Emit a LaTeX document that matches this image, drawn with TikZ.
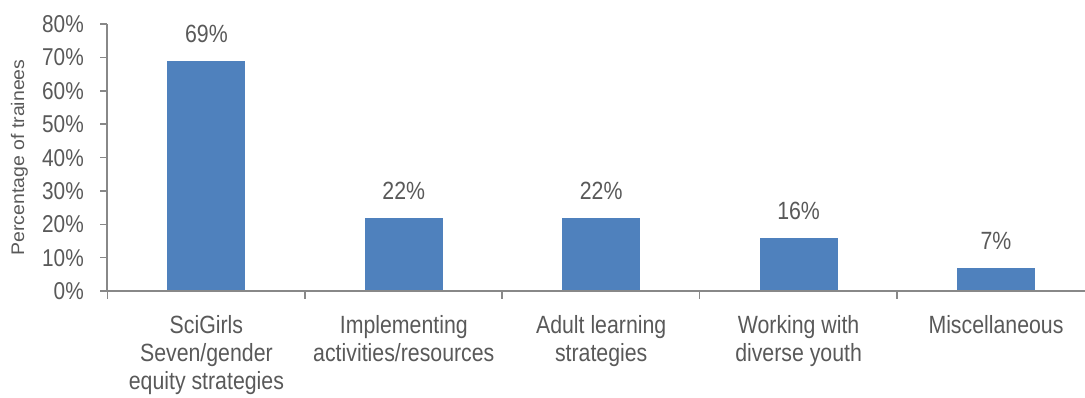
\documentclass[tikz,border=0pt]{standalone}
\usepackage{fontspec}
\setmainfont{Liberation Sans}
\usepackage{graphicx}
\definecolor{barblue}{HTML}{4F81BD}
\definecolor{txtgray}{HTML}{595959}
\definecolor{axgray}{HTML}{888888}
\newcommand{\stretchtext}[1]{\scalebox{1}[1.17]{#1}}
\tikzset{
  axisline/.style={draw=axgray, line width=1.6pt},
  barbox/.style={fill=barblue, draw=none},
  ticklbl/.style={text=txtgray, inner sep=0pt, anchor=east, font=\fontsize{20.8}{24}\selectfont},
  vallbl/.style={text=txtgray, inner sep=0pt, anchor=center, font=\fontsize{21.3}{24}\selectfont},
  catlbl/.style={text=txtgray, inner sep=0pt, anchor=base, font=\fontsize{21.3}{24.2}\selectfont},
  ytitle/.style={text=txtgray, inner sep=0pt, anchor=base, rotate=90, font=\fontsize{18.2}{22}\selectfont}
}
\begin{document}
\begin{tikzpicture}[x=1pt,y=-1pt]
\useasboundingbox (0,0) rectangle (1085,398);
\def\yz{291}
\def\ys{3.334}
% bars
\foreach \i/\v in {0/69,1/22,2/22,3/16,4/7}{
  \pgfmathsetmacro{\cx}{206.4+\i*197.4}
  \pgfmathsetmacro{\top}{\yz-\v*\ys}
  \fill[barblue] (\cx-39,\yz) rectangle (\cx+39,\top);
  \node[vallbl] (v\i) at (\cx,\top-27) {\stretchtext{\v\%}};
}
% y axis
\draw[axisline] (107,24.3) -- (107,\yz);
\foreach \p in {0,10,...,80}{
  \pgfmathsetmacro{\yy}{\yz-\p*\ys}
  \draw[axisline] (100,\yy) -- (107,\yy);
  \node[ticklbl] (t\p) at (84,\yy) {\stretchtext{\p\%}};
}
% x axis
\draw[axisline] (100,\yz) -- (1085,\yz);
\foreach \i in {0,...,4}{
  \pgfmathsetmacro{\xx}{107.3+\i*197.4}
  \draw[axisline] (\xx,\yz) -- (\xx,299.5);
}
% category labels
\node[catlbl] (c0) at (206.4,333.3) {\stretchtext{\begin{tabular}[t]{@{}c@{}}SciGirls\\Seven/gender\\equity strategies\end{tabular}}};
\node[catlbl] (c1) at (403.8,333.3) {\stretchtext{\begin{tabular}[t]{@{}c@{}}Implementing\\activities/resources\end{tabular}}};
\node[catlbl] (c2) at (601.2,333.3) {\stretchtext{\begin{tabular}[t]{@{}c@{}}Adult learning\\strategies\end{tabular}}};
\node[catlbl] (c3) at (798.6,333.3) {\stretchtext{\begin{tabular}[t]{@{}c@{}}Working with\\diverse youth\end{tabular}}};
\node[catlbl] (c4) at (996,333.3) {\stretchtext{\begin{tabular}[t]{@{}c@{}}Miscellaneous\end{tabular}}};
% y title
\node[ytitle] (yt) at (24,157.5) {\scalebox{1.07}[1]{Percentage of trainees}};
\end{tikzpicture}
\end{document}
